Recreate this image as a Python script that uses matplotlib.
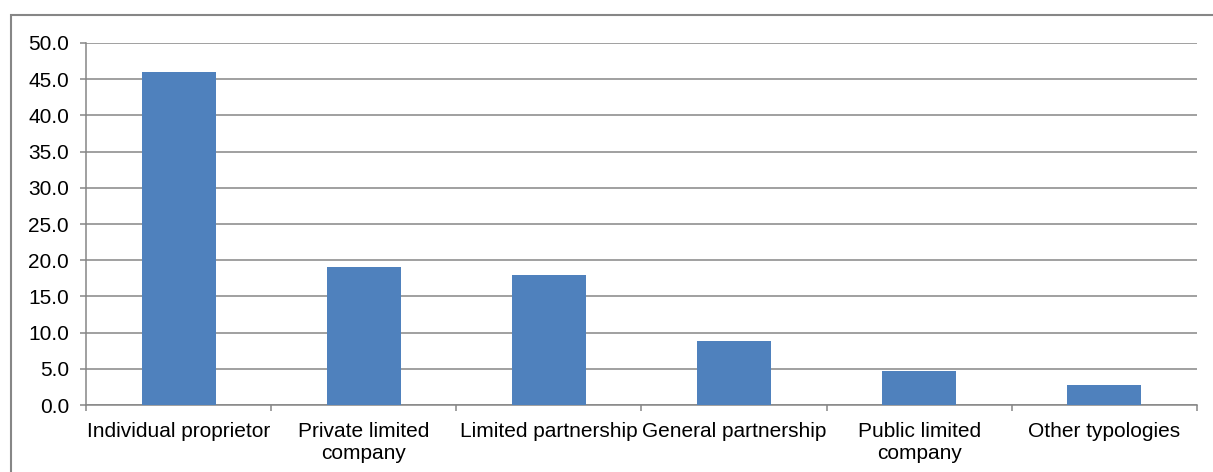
import numpy as np
import matplotlib.pyplot as plt
from matplotlib.patches import Rectangle

plt.rcParams['font.family'] = ['Liberation Sans', 'DejaVu Sans']

categories = ['Individual proprietor', 'Private limited\ncompany', 'Limited partnership',
              'General partnership', 'Public limited\ncompany', 'Other typologies']
shares = [46.0, 19.0, 18.0, 8.8, 4.7, 2.7]
yticks = np.arange(0, 50.1, 5)

grey = '#868686'

fig = plt.figure(figsize=(12.13, 4.72), dpi=100)
ax = fig.add_axes([0.0709, 0.1419, 0.9159, 0.767])

x = np.arange(len(categories))
ax.bar(x, shares, width=0.4, color='#4F81BD', zorder=3)

ax.set_xlim(-0.5, len(categories) - 0.5)
ax.set_ylim(0, 50)
ax.set_yticks(yticks)
ax.set_yticklabels(['%.1f' % v for v in yticks], fontsize=15)
ax.yaxis.grid(True, color=grey, linewidth=1.1, zorder=0)
ax.set_axisbelow(True)

# category labels centred, tick marks on the boundaries between categories
ax.set_xticks(x)
ax.set_xticklabels(categories, fontsize=15, linespacing=1.2)
ax.tick_params(axis='x', length=0, pad=12)
ax.set_xticks(np.arange(-0.5, len(categories)), minor=True)
ax.tick_params(axis='x', which='minor', length=4.3, width=1.1, color=grey, direction='out')
ax.tick_params(axis='y', length=4.3, width=1.1, color=grey, pad=8)

for side in ['top', 'right']:
    ax.spines[side].set_visible(False)
for side in ['left', 'bottom']:
    ax.spines[side].set_color(grey)
    ax.spines[side].set_linewidth(1.1)

# outer chart frame
fig.patches.append(Rectangle((0.009, -0.05), 1.2, 1.018, transform=fig.transFigure,
                             fill=False, edgecolor=grey, linewidth=1.5))

fig.savefig('out.png', dpi=100)
